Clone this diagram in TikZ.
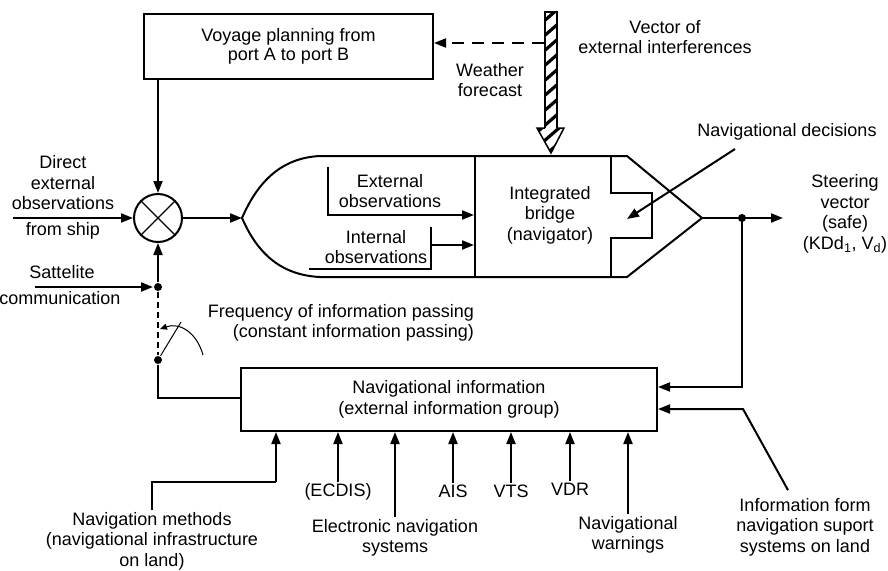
\documentclass[tikz,border=0pt]{standalone}
\usepackage{fontspec}
\setmainfont{Liberation Sans}
\usetikzlibrary{positioning, arrows.meta, calc}
\tikzset{block/.style={rectangle, draw, line width=2pt, inner sep=2pt, align=center},
	label/.style={align=center, inner sep=1pt},
	arr/.style={-{Triangle[length=12pt,width=9pt]}, line width=2pt},
	dot/.style={circle, fill, inner sep=0pt, minimum size=8pt},}

\begin{document}
\begin{tikzpicture}[x=1pt, y=-1pt, line width=2pt, every node/.style={font=\fontsize{18pt}{20.5pt}\selectfont}]
	\useasboundingbox (0,0) rectangle (888,570);
	% Blocks
	\node[block, minimum width=289pt, minimum height=65pt] (voyage) at (288.5,46.5) {Voyage planning from\\[-1pt]port A to port B};
	\node[circle, draw, minimum size=48pt, inner sep=0pt] (sum) at (158,218) {};
	\draw[line width=1.3pt] (sum.north west) -- (sum.south east) (sum.north east) -- (sum.south west);
	\node[block, minimum width=416pt, minimum height=63pt] (info) at (449,399.5) {Navigational information\\(external information group)};
	% Ship
	\coordinate (bow) at (702,218);
	\coordinate (stern) at (242,218);
	\draw (320,156) -- (627,156) -- (bow) -- (627,277) -- (320,277)
		.. controls (278,275) and (256,250) .. (stern)
		.. controls (256,186) and (278,158) .. (320,156) -- cycle;
	\draw (475,156) -- (475,277);
	\draw (611,156) -- (611,193) -- (652,193) -- (652,238) -- (611,238) -- (611,277);
	% Labels
	\node[label] (vector) at (665,37) {Vector of\\external interferences};
	\node[label] (weather) at (490,80) {Weather\\forecast};
	\node[label] (direct) at (63,183) {Direct\\external\\observations};
	\node[label] (fromship) at (63,231) {from ship};
	\node[label] (sat) at (62,272) {Sattelite};
	\node[label] (comm) at (60,298) {communication};
	\node[label, align=right, anchor=east] (freq) at (476,323) {Frequency of information passing\\(constant information passing)};
	\node[label] (extobs) at (390,191) {External\\observations};
	\node[label] (intobs) at (376,247) {Internal\\observations};
	\node[label] (bridge) at (550,215) {Integrated\\bridge\\(navigator)};
	\node[label] (decis) at (787,132) {Navigational decisions};
	\node[label] (steer) at (845,214) {Steering\\vector\\(safe)\\(KDd\textsubscript{1}, V\textsubscript{d})};
	\node[label] (methods) at (152,541) {Navigation methods\\(navigational infrastructure\\on land)};
	\node[label] (ecdis) at (338,492) {(ECDIS)};
	\node[label] (elec) at (395,538) {Electronic navigation\\systems};
	\node[label] (ais) at (453,491) {AIS};
	\node[label] (vts) at (511,491) {VTS};
	\node[label] (vdr) at (570,489) {VDR};
	\node[label] (warn) at (628,535) {Navigational\\warnings};
	\node[label] (land) at (805,527) {Information form\\navigation suport\\systems on land};
	% Disturbance arrow
	\begin{scope}
		\clip (545,12) -- (557,12) -- (557,128) -- (564,128) -- (551,153) -- (537,128) -- (545,128) -- cycle;
		\foreach \y in {0,15,...,165}
			\draw[line width=3.2pt] (536,\y+13) -- (566,\y-13);
	\end{scope}
	\draw[line width=1.2pt] (545,128) -- (545,12) -- (557,12) -- (557,128);
	\draw[line width=1.5pt] (545,128) -- (537,128) -- (551,153) -- (564,128) -- (557,128);
	\coordinate (wstart) at (544,43);
	% Junction points
	\coordinate (satin) at (35,287);
	\node[dot] (satdot) at (158,287) {};
	\node[dot] (swdot) at (158,360) {};
	\coordinate (outdot) at (742,218);
	\coordinate (decstart) at (735,149);
	\coordinate (landbend) at (743,409);
	\coordinate (methbend) at (152,482);
	% Paths
	\draw[arr, dashed, dash pattern=on 12pt off 8pt] (wstart) -- (voyage.east |- wstart);
	\draw[arr] (voyage.south -| sum) -- (sum.north);
	\draw[arr] (13,218) -- (sum.west);
	\draw[arr] (sum.east) -- (stern);
	\draw[arr] (328,167) -- (328,215) -- (474,215);
	\draw (309,269) -- (431,269) -- (431,227);
	\draw[arr] (431,245) -- (474,245);
	\draw[arr] (decstart) -- (627,219);
	\draw[arr] (bow) -- (783,218);
	\fill (outdot) circle (4pt);
	\draw[arr] (outdot) |- (info.east |- 0,387);
	\draw[arr] (satin) -- (satdot.west);
	\draw[arr] (satdot) -- (sum.south);
	\draw[dashed, dash pattern=on 6pt off 4pt] (satdot) -- (swdot);
	\draw[line width=1pt] (swdot) -- (181,322);
	\draw[line width=1pt, -{Triangle[length=7pt,width=6pt]}] (203,355) .. controls (197,333) and (180,322) .. (160,329);
	\draw (swdot) |- (info.west |- 0,398);
	\draw[arr] (land.north) ++(-17,-6) -- (landbend) -- (info.east |- landbend);
	\draw (methods.north) -- (methbend) -| (276,482) coordinate (m2);
	\draw[arr] (m2) -- (m2 |- info.south);
	\draw[arr] (ecdis.north) -- (ecdis.north |- info.south);
	\draw[arr] (elec.north) -- (elec.north |- info.south);
	\draw[arr] (ais.north) -- (ais.north |- info.south);
	\draw[arr] (vts.north) -- (vts.north |- info.south);
	\draw[arr] (vdr.north) -- (vdr.north |- info.south);
	\draw[arr] (warn.north) -- (warn.north |- info.south);
\end{tikzpicture}
\end{document}
